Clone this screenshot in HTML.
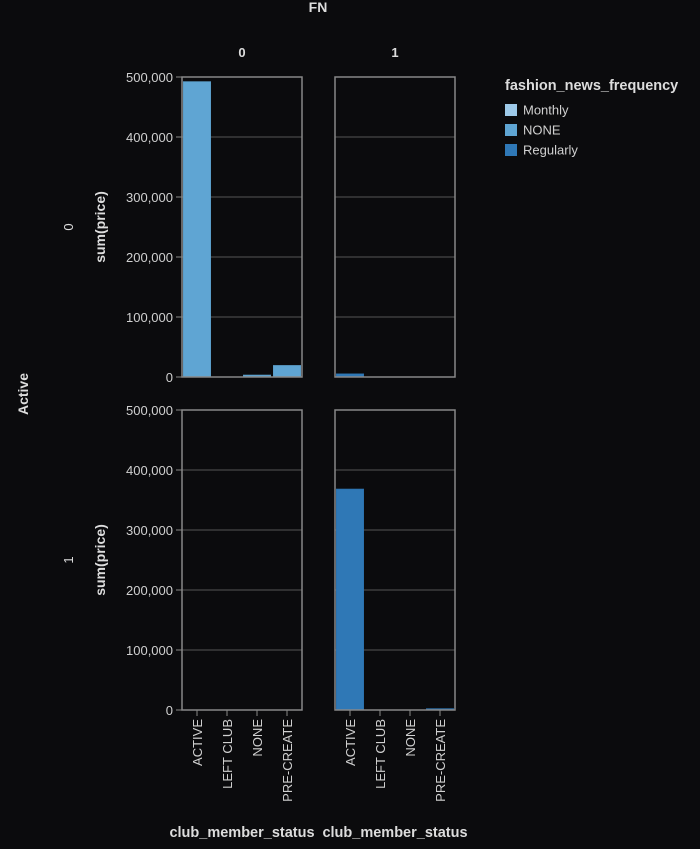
<!DOCTYPE html>
<html><head><meta charset="utf-8">
<style>
html,body{margin:0;padding:0;background:#0b0b0d;}
svg{display:block;font-family:"Liberation Sans",Arial,sans-serif;}
</style></head>
<body>
<svg id="chart" width="700" height="849"></svg>
<script>
const categories = ["ACTIVE","LEFT CLUB","NONE","PRE-CREATE"];
const seriesNames = ["Monthly","NONE","Regularly"];
const colors = {"Monthly":"#9ecae9","NONE":"#5fa5d3","Regularly":"#2f78b6"};
const yTicks = [0,100000,200000,300000,400000,500000];
const yTickLabels = ["0","100,000","200,000","300,000","400,000","500,000"];
const p00_NONE = [492000, 0, 3000, 19000];
const p01_Regularly = [5000, 0, 0, 0];
const p11_Regularly = [368000, 0, 0, 2000];

const NS="http://www.w3.org/2000/svg";
const svg=document.getElementById('chart');
function mk(tag,attrs,parent,text){const e=document.createElementNS(NS,tag);for(const k in attrs)e.setAttribute(k,attrs[k]);if(text!==undefined)e.textContent=text;(parent||svg).appendChild(e);return e;}

const W=120,H=300,colX=[182,335],rowY=[77,410];
const bandW=W/categories.length;
function y(v){return H - v/500000*H;}
function x(i){return i*bandW + bandW*0.05;}

const panels=[
 {r:0,c:0,data:[["NONE",p00_NONE]]},
 {r:0,c:1,data:[["Regularly",p01_Regularly]]},
 {r:1,c:0,data:[]},
 {r:1,c:1,data:[["Regularly",p11_Regularly]]}
];
panels.forEach(p=>{
  const g=mk('g',{transform:`translate(${colX[p.c]},${rowY[p.r]})`});
  
  
  yTicks.forEach(t=>{ if(t>0&&t<500000){const l=mk('line',{x1:0,x2:W,y1:y(t),y2:y(t),stroke:'#555',"stroke-width":1},g);
    
    }});
  p.data.forEach(([s,vals])=>{
    vals.forEach((v,i)=>{ if(v<=0)return;
      const b=mk('rect',{x:x(i),y:y(v),width:bandW*0.9,height:H-y(v),fill:colors[s],stroke:colors[s],"stroke-opacity":0.9},g);
      
      
    });
  });
  const fr=mk('rect',{x:0,y:0,width:W,height:H,fill:'none',stroke:'#888',"stroke-width":1.5},g);
  
  
  if(p.c===0){
    yTicks.forEach((t,i)=>{
      mk('line',{x1:-6,x2:0,y1:y(t),y2:y(t),stroke:'#888'},g);
      const tl=mk('text',{x:-9,y:y(t)+5,"text-anchor":"end",fill:'#d0d0d0',"font-size":13},g,yTickLabels[i]);
      
      
    });
    const yt=mk('text',{transform:`translate(-77,${H/2}) rotate(-90)`,"text-anchor":"middle",fill:'#ddd',"font-size":14,"font-weight":"bold"},g,'sum(price)');
    
    
    const rl=mk('text',{transform:`translate(-109,${H/2}) rotate(-90)`,"text-anchor":"middle",fill:'#ddd',"font-size":13},g,String(p.r));
    
    
  }
  if(p.r===0){
    const cl=mk('text',{x:W/2,y:-20,"text-anchor":"middle",fill:'#ddd',"font-size":13,"font-weight":"bold"},g,String(p.c));
    
    
  }
  if(p.r===1){
    categories.forEach((c,i)=>{
      const cx=i*bandW+bandW/2;
      mk('line',{x1:cx,x2:cx,y1:H,y2:H+6,stroke:'#888'},g);
      const tl=mk('text',{transform:`translate(${cx+5},${H+9}) rotate(-90)`,"text-anchor":"end",fill:'#d0d0d0',"font-size":13},g,c);
      
      
    });
    const xt=mk('text',{x:W/2,y:H+127,"text-anchor":"middle",fill:'#ddd',"font-size":14.5,"font-weight":"bold"},g,'club_member_status');
    
    
  }
});
const fn=mk('text',{x:318,y:12,"text-anchor":"middle",fill:'#ddd',"font-size":14,"font-weight":"bold"},svg,'FN');


const act=mk('text',{transform:'translate(28,394) rotate(-90)',"text-anchor":"middle",fill:'#ddd',"font-size":14,"font-weight":"bold"},svg,'Active');


const lg=mk('g',{transform:'translate(505,80)'});


const lt=mk('text',{x:0,y:10,fill:'#ddd',"font-size":14.5,"font-weight":"bold"},lg,'fashion_news_frequency');


seriesNames.forEach((s,i)=>{
  const e=mk('g',{transform:`translate(0,${29+i*20})`},lg);
  
  
  mk('rect',{x:0,y:-5,width:12,height:12,fill:colors[s]},e);
  mk('text',{x:18,y:5.5,fill:'#d0d0d0',"font-size":13},e,s);
});
</script>
</body></html>
